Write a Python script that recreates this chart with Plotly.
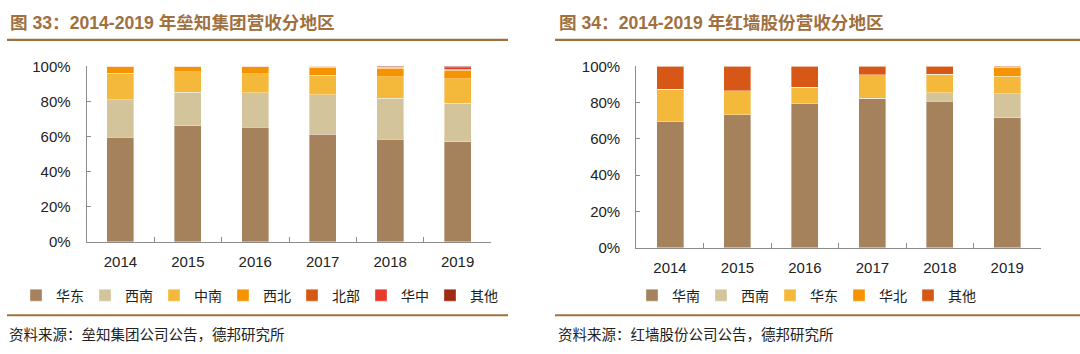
import plotly.graph_objects as go

years = ["2014", "2015", "2016", "2017", "2018", "2019"]

# 垒知集团 revenue share by region (%)
lz_names = ["华东", "西南", "中南", "西北", "北部", "华中", "其他"]
lz_huadong = [59.6, 66.1, 65.2, 61.3, 58.4, 57.1]
lz_xinan = [21.5, 19.2, 19.7, 22.5, 23.4, 21.9]
lz_zhongnan = [15.0, 11.7, 11.0, 11.1, 12.3, 14.1]
lz_xibei = [3.6, 2.7, 3.8, 4.5, 4.8, 4.8]
lz_beibu = [0.3, 0.3, 0.3, 0.6, 0.3, 0.6]
lz_huazhong = [0.0, 0.0, 0.0, 0.0, 0.2, 0.8]
lz_qita = [0.0, 0.0, 0.0, 0.0, 0.6, 0.7]
lz_colors = ["#a5825c", "#d4c49b", "#f4b93a", "#f59400", "#d75816", "#e8392d", "#a02b13"]

# 红墙股份 revenue share by region (%)
hq_names = ["华南", "西南", "华东", "华北", "其他"]
hq_huanan = [69.5, 73.4, 79.5, 82.3, 80.7, 71.8]
hq_xinan = [0.0, 0.0, 0.0, 0.0, 4.9, 13.1]
hq_huadong = [17.9, 13.3, 8.9, 13.0, 10.2, 9.6]
hq_huabei = [0.0, 0.0, 0.0, 0.0, 0.0, 5.0]
hq_qita = [12.6, 13.3, 11.6, 4.7, 4.2, 0.5]
hq_colors = ["#a5825c", "#d4c49b", "#f4b93a", "#f59400", "#d75816"]

W, H = 1080, 354
def px(x): return x / W
def py(y): return 1 - y / H

fig = go.Figure()
lz_series = [lz_huadong, lz_xinan, lz_zhongnan, lz_xibei, lz_beibu, lz_huazhong, lz_qita]
for name, vals, col in zip(lz_names, lz_series, lz_colors):
    fig.add_trace(go.Bar(x=years, y=vals, name=name, marker=dict(color=col, line=dict(color="rgba(255,255,255,0.45)", width=0.8)),
                         xaxis="x", yaxis="y", width=0.4, legend="legend"))
hq_series = [hq_huanan, hq_xinan, hq_huadong, hq_huabei, hq_qita]
for name, vals, col in zip(hq_names, hq_series, hq_colors):
    fig.add_trace(go.Bar(x=years, y=vals, name=name, marker=dict(color=col, line=dict(color="rgba(255,255,255,0.45)", width=0.8)),
                         xaxis="x2", yaxis="y2", width=0.4, legend="legend2"))

axcol = "#8c8c8c"
tickfont = dict(family="Liberation Sans, Arial, sans-serif", size=15, color="#222222")
xcommon = dict(type="category", showline=True, linecolor=axcol, linewidth=1.2, ticks="inside",
               ticklen=5, tickcolor=axcol, tickson="boundaries", tickfont=tickfont,
               showgrid=False, zeroline=False, fixedrange=True, ticklabelstandoff=6)
ycommon = dict(range=[0, 100], dtick=20, ticksuffix="%", showline=True, linecolor=axcol, linewidth=1.2,
               ticks="inside", ticklen=4, tickcolor=axcol, tickfont=tickfont, showgrid=False,
               zeroline=False, fixedrange=True, ticklabelstandoff=12)

legfont = dict(family="Noto Sans CJK SC", size=14, color="#222222")
fig.update_layout(
    width=W, height=H, margin=dict(l=0, r=0, t=0, b=0),
    paper_bgcolor="white", plot_bgcolor="white", barmode="stack", bargap=0.6,
    xaxis=dict(domain=[px(86.7), px(491.3)], anchor="y", **xcommon),
    yaxis=dict(domain=[py(244.7), py(60.3)], anchor="x", **ycommon),
    xaxis2=dict(domain=[px(636.3), px(1041)], anchor="y2", **xcommon),
    yaxis2=dict(domain=[py(250.7), py(60.3)], anchor="x2", **ycommon),
    legend=dict(orientation="h", x=px(16), y=py(301), xanchor="left", yanchor="middle", font=legfont,
                itemwidth=30, entrywidth=24, entrywidthmode="pixels", bgcolor="rgba(0,0,0,0)",
                traceorder="normal", itemclick=False, itemdoubleclick=False),
    legend2=dict(orientation="h", x=px(632), y=py(301), xanchor="left", yanchor="middle", font=legfont,
                 itemwidth=30, entrywidth=24, entrywidthmode="pixels", bgcolor="rgba(0,0,0,0)",
                 traceorder="normal", itemclick=False, itemdoubleclick=False),
    showlegend=True,
)

brown = "#a0703f"
title_font = dict(family="Liberation Sans, Noto Sans CJK SC", size=17.6, color=brown)
fig.add_annotation(text="<b>图 33：2014-2019 年垒知集团营收分地区</b>", xref="paper", yref="paper",
                   x=px(8), y=py(15), xanchor="left", yanchor="middle", showarrow=False, font=title_font)
fig.add_annotation(text="<b>图 34：2014-2019 年红墙股份营收分地区</b>", xref="paper", yref="paper",
                   x=px(557), y=py(15), xanchor="left", yanchor="middle", showarrow=False, font=title_font)

foot_font = dict(family="Noto Sans CJK SC", size=14.5, color="#222222")
fig.add_annotation(text="资料来源：垒知集团公司公告，德邦研究所", xref="paper", yref="paper",
                   x=px(7), y=py(341), xanchor="left", yanchor="middle", showarrow=False, font=foot_font)
fig.add_annotation(text="资料来源：红墙股份公司公告，德邦研究所", xref="paper", yref="paper",
                   x=px(556), y=py(341), xanchor="left", yanchor="middle", showarrow=False, font=foot_font)

for (x0, x1) in [(7, 508), (555, 1080)]:
    for yy in [32.5, 321.7]:
        fig.add_shape(type="line", xref="paper", yref="paper", x0=px(x0), x1=px(x1), y0=py(yy), y1=py(yy),
                      line=dict(color=brown, width=2.2))

fig.write_html("out.html")
